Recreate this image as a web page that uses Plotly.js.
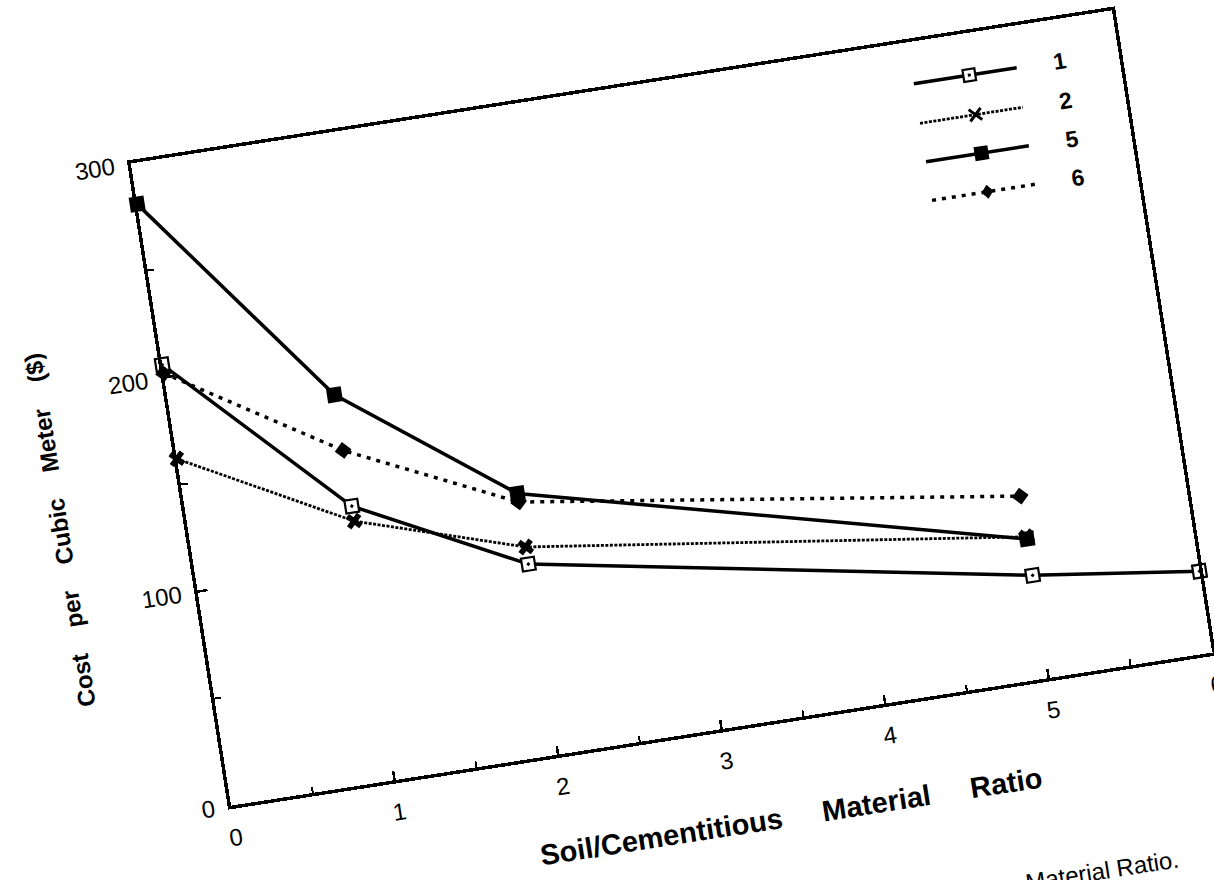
<!DOCTYPE html>
<html>
<head>
<meta charset="utf-8">
<script src="https://cdn.plot.ly/plotly-3.0.1.min.js"></script>
<style>
  html, body { margin: 0; padding: 0; background: #ffffff; overflow: hidden; width: 1214px; height: 880px; }
  #chart {
    position: absolute; left: 0; top: 0; width: 1214px; height: 1000px;
    transform-origin: 671.5px 408px;
    transform: rotate(-8.87deg);
  }
</style>
</head>
<body>
<div id="chart"></div>
<script>
// Soil/cementitious material ratio at which each mix was costed
const ratioMix1 = [0, 1, 2, 5, 6];
const ratioOther = [0, 1, 2, 5];

// Cost per cubic meter ($) for each mix
const costMix1 = [206, 128, 89, 48, 38];
const costMix2 = [162, 121, 97, 66];
const costMix5 = [281, 180, 122, 65];
const costMix6 = [202, 154, 118, 85];

const mixNames = ['1', '2', '5', '6'];

// Axis ticks and labels
const xTickVals = [0, 1, 2, 3, 4, 5, 6];
const xTickText = ['0', '1', '2', '3', '4', '5', '6'];
const yTickVals = [0, 100, 200, 300];
const yTickText = ['0', '100', '200', '300'];

const FONT = 'Liberation Sans, Arial, Helvetica, sans-serif';
const BLACK = '#000000';

// Per-mix drawing styles
const styles = {
  '1': { line: { color: BLACK, width: 3.5 },
         marker: { symbol: 'square-dot', size: 13, color: '#ffffff', line: { color: BLACK, width: 2.2 } } },
  '2': { line: { color: BLACK, width: 2.8, dash: '3px,1.5px' },
         marker: { symbol: 'x', size: 14, color: BLACK, line: { width: 0 } } },
  '5': { line: { color: BLACK, width: 3.5 },
         marker: { symbol: 'square', size: 15, color: BLACK } },
  '6': { line: { color: BLACK, width: 3.5, dash: '4px,6px' },
         marker: { symbol: 'diamond', size: 13, color: BLACK } }
};

const seriesX = { '1': ratioMix1, '2': ratioOther, '5': ratioOther, '6': ratioOther };
const seriesY = { '1': costMix1, '2': costMix2, '5': costMix5, '6': costMix6 };

const traces = mixNames.map(function (n) {
  return {
    type: 'scatter', mode: 'lines+markers', name: n,
    x: seriesX[n], y: seriesY[n],
    line: styles[n].line, marker: styles[n].marker,
    cliponaxis: false
  };
});

// Key in the upper right corner: long sample lines with the marker in the middle
const keyLineX0 = 0.7915, keyLineX1 = 0.8963, keyMarkX = 0.848, keyLabelX = 0.9396;
const keyRowY = [0.9354, 0.8738, 0.8138, 0.7538];

const shapes = [];
const annotations = [];
mixNames.forEach(function (n, i) {
  const y = keyRowY[i];
  const ln = styles[n].line;
  shapes.push({ type: 'line', xref: 'paper', yref: 'paper', x0: keyLineX0, x1: keyLineX1, y0: y, y1: y,
                line: { color: BLACK, width: ln.width, dash: ln.dash || 'solid' } });
  const px = { xref: 'paper', yref: 'paper', xsizemode: 'pixel', ysizemode: 'pixel', xanchor: keyMarkX, yanchor: y };
  if (n === '1') {
    shapes.push(Object.assign({ type: 'rect', x0: -6, x1: 6, y0: -6, y1: 6, fillcolor: '#ffffff', line: { color: BLACK, width: 2.2 } }, px));
    shapes.push(Object.assign({ type: 'rect', x0: -1.5, x1: 1.5, y0: -1.5, y1: 1.5, fillcolor: BLACK, line: { width: 0 } }, px));
  } else if (n === '2') {
    shapes.push(Object.assign({ type: 'line', x0: -6, x1: 6, y0: -6, y1: 6, line: { color: BLACK, width: 3 } }, px));
    shapes.push(Object.assign({ type: 'line', x0: -6, x1: 6, y0: 6, y1: -6, line: { color: BLACK, width: 3 } }, px));
  } else if (n === '5') {
    shapes.push(Object.assign({ type: 'rect', x0: -7, x1: 7, y0: -7, y1: 7, fillcolor: BLACK, line: { width: 0 } }, px));
  } else {
    shapes.push(Object.assign({ type: 'path', path: 'M0,-7 L6,0 L0,7 L-6,0 Z', fillcolor: BLACK, line: { width: 0 } }, px));
  }
  annotations.push({ xref: 'paper', yref: 'paper', x: keyLabelX, y: y, xanchor: 'center', yanchor: 'middle',
                     text: '<b>' + n + '</b>', showarrow: false, font: { family: FONT, size: 23, color: BLACK } });
});

const NB = '\u00a0';
const gap = function (k) { return NB.repeat(k); };

// Axis titles
annotations.push({
  xref: 'paper', yref: 'paper', x: 0.556, y: -0.15, xanchor: 'center', yanchor: 'middle',
  text: '<b>Soil/Cementitious' + gap(4) + ' Material' + gap(4) + ' Ratio</b>',
  showarrow: false, font: { family: FONT, size: 29, color: BLACK }
});
annotations.push({
  xref: 'paper', yref: 'paper', x: -0.128, y: 0.46, xanchor: 'center', yanchor: 'middle', textangle: -90,
  text: '<b>Cost' + gap(3) + ' per' + gap(3) + ' Cubic' + gap(3) + ' Meter' + gap(3) + ' ($)</b>',
  showarrow: false, font: { family: FONT, size: 24, color: BLACK }
});
// Figure caption line running along the bottom of the page
annotations.push({
  xref: 'paper', yref: 'paper', x: 0.9366, y: -0.305, xanchor: 'right', yanchor: 'middle',
  text: 'Cost per Cubic Meter vs. Soil/Cementitious Material Ratio.',
  showarrow: false, font: { family: FONT, size: 24, color: BLACK }
});

const axisCommon = {
  showline: true, mirror: true, linecolor: BLACK, linewidth: 3.5,
  showgrid: false, zeroline: false,
  ticks: 'inside', tickcolor: BLACK, tickwidth: 2.5,
  tickfont: { family: FONT, size: 24, color: BLACK },
  tickmode: 'array'
};

const layout = {
  width: 1214, height: 1000,
  margin: { l: 175, r: 46, t: 83, b: 267 },
  paper_bgcolor: '#ffffff', plot_bgcolor: '#ffffff',
  showlegend: false,
  xaxis: Object.assign({}, axisCommon, {
    range: [0, 6], tickvals: xTickVals, ticktext: xTickText, ticklen: 9, ticklabelstandoff: 8,
    minor: { ticks: 'inside', dtick: 0.5, ticklen: 6, tickwidth: 2, tickcolor: BLACK }
  }),
  yaxis: Object.assign({}, axisCommon, {
    range: [0, 300], tickvals: yTickVals, ticktext: yTickText, ticklen: 10, ticklabelstandoff: 8,
    minor: { ticks: 'inside', dtick: 50, ticklen: 7, tickwidth: 2, tickcolor: BLACK }
  }),
  shapes: shapes,
  annotations: annotations
};

Plotly.newPlot('chart', traces, layout, { displayModeBar: false, staticPlot: true });
</script>
</body>
</html>
